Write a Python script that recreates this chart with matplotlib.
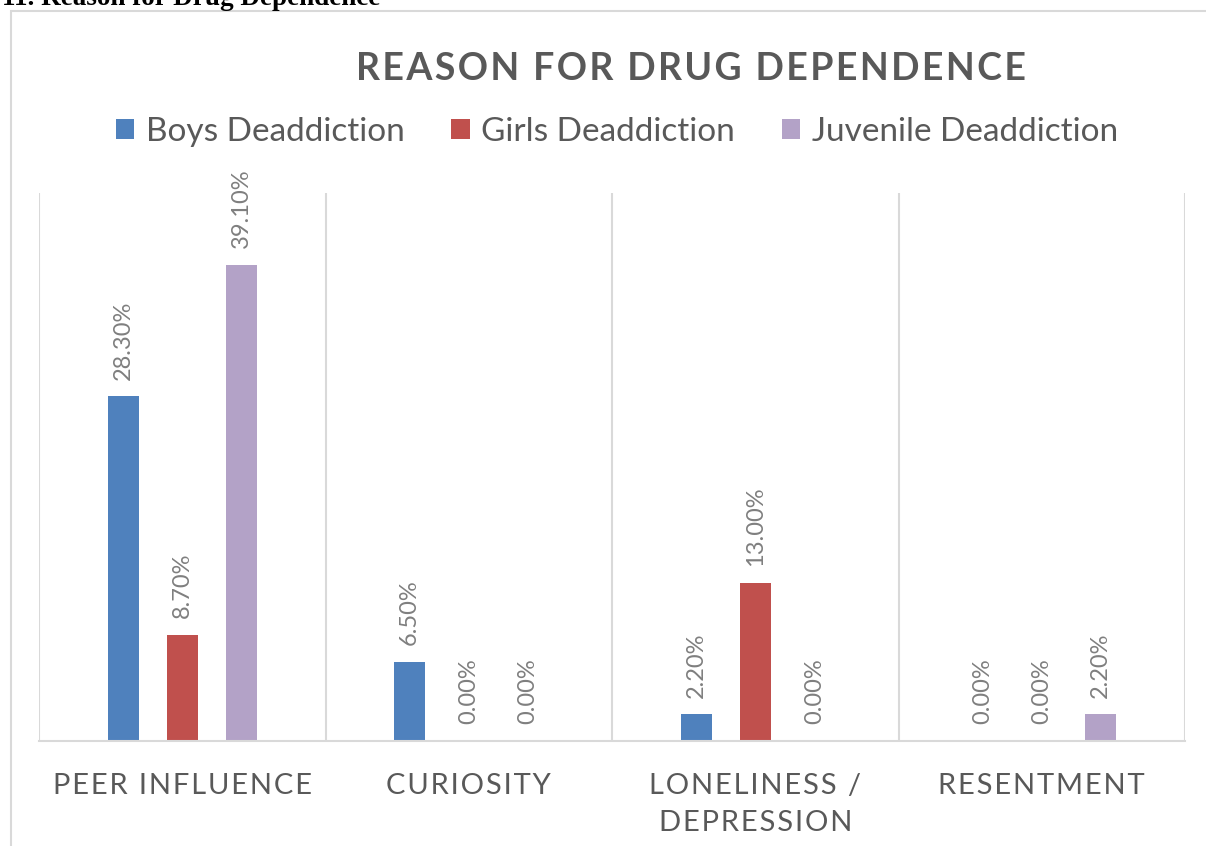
import matplotlib
matplotlib.use("Agg")
import matplotlib.pyplot as plt
from matplotlib.patches import Rectangle, Patch

# data
categories = ["PEER INFLUENCE", "CURIOSITY", "LONELINESS /\nDEPRESSION", "RESENTMENT"]
series_names = ["Boys Deaddiction", "Girls Deaddiction", "Juvenile Deaddiction"]
boys = [28.3, 6.5, 2.2, 0.0]
girls = [8.7, 0.0, 13.0, 0.0]
juvenile = [39.1, 0.0, 0.0, 2.2]
colors = ["#4f81bd", "#c0504d", "#b3a2c7"]

HS = "\u200a"  # hair space for letter spacing


def spaced(s, sep=HS):
    return "\n".join(sep.join(line) for line in s.split("\n"))


plt.rcParams["font.family"] = ["Lato", "DejaVu Sans"]

fig = plt.figure(figsize=(12.06, 8.46), dpi=100)

# outer chart border (cropped from a document)
fig.patches.append(Rectangle((10.5 / 1206, -0.1), 1.2, 1 - 11.5 / 846 + 0.1,
                             transform=fig.transFigure, fill=False,
                             edgecolor="#d9d9d9", linewidth=1.5))
fig.text(0.002, 1 - 5 / 846, "11. Reason for Drug Dependence",
         family="Liberation Serif", weight="bold", fontsize=19.5,
         ha="left", va="baseline", color="black")

ax = fig.add_axes([39 / 1206, 1 - 741 / 846, (1185 - 39) / 1206, (741 - 193) / 846])

off = 0.206
w = 0.108
for k, vals in enumerate([boys, girls, juvenile]):
    xs = [i + (k - 1) * off for i in range(len(categories))]
    ax.bar(xs, vals, width=w, color=colors[k], zorder=2)
    for x, v in zip(xs, vals):
        ax.annotate(f"{v:.2f}%", (x, v), xytext=(0, 12), textcoords="offset points",
                    rotation=90, ha="center", va="bottom", fontsize=17,
                    color="#7f7f7f")

ax.set_xlim(-0.5, len(categories) - 0.5)
ax.set_ylim(0, 45)
for xv in [i - 0.5 for i in range(len(categories) + 1)]:
    ax.axvline(xv, color="#d9d9d9", linewidth=1.5, zorder=1)
for s in ["top", "left", "right"]:
    ax.spines[s].set_visible(False)
ax.spines["bottom"].set_color("#d9d9d9")
ax.spines["bottom"].set_linewidth(1.5)
ax.set_yticks([])
ax.set_xticks(range(len(categories)))
ax.set_xticklabels([spaced(c) for c in categories], fontsize=21, color="#595959",
                   linespacing=1.55)
ax.tick_params(axis="x", length=0, pad=23)

fig.text(691 / 1206, 1 - 69 / 846, spaced("REASON FOR DRUG DEPENDENCE"),
         ha="center", va="center", fontsize=27, weight="bold", color="#595959")

handles = [Patch(facecolor=c, edgecolor="none") for c in colors]
fig.legend(handles, series_names, loc="center", bbox_to_anchor=(617 / 1206, 1 - 132 / 846),
           ncol=3, frameon=False, fontsize=24, labelcolor="#595959",
           handlelength=0.55, handleheight=0.55, handletextpad=0.35, columnspacing=1.4)

fig.savefig("out.png", dpi=100)
